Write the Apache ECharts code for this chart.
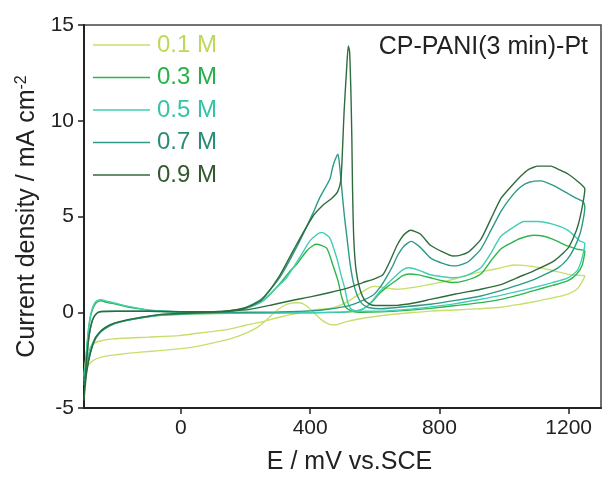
<!DOCTYPE html>
<html><head><meta charset="utf-8">
<script src="https://cdn.jsdelivr.net/npm/echarts@6/dist/echarts.min.js"></script>
<style>html,body{margin:0;padding:0;background:#fff;overflow:hidden}#c{width:603px;height:480px;display:block}</style>
</head><body><div id="c"></div>
<script>
const seriesNames = ['0.1 M', '0.3 M', '0.5 M', '0.7 M', '0.9 M'];
const lineColors = ['#c6df6c', '#2db64c', '#42ceb5', '#2c9a86', '#2f6c3d'];
const textColors = ['#bcd95a', '#27b04a', '#36c4a7', '#2a8c78', '#33592f'];
const xTicks = [0, 400, 800, 1200];

const cv01 = [[-300,-3.3],[-295,-3.0],[-289,-2.8],[-270,-2.5],[-240,-2.32],[-200,-2.22],[-150,-2.12],[-100,-2.05],[-50,-1.98],[0,-1.9],[50,-1.78],[100,-1.6],[150,-1.4],[200,-1.1],[235,-0.8],[265,-0.4],[290,0.0],[314,0.3],[340,0.48],[365,0.5],[385,0.38],[410,0.0],[435,-0.4],[460,-0.63],[480,-0.65],[510,-0.5],[550,-0.35],[600,-0.22],[650,-0.12],[700,-0.04],[772,0.06],[850,0.12],[920,0.18],[990,0.26],[1050,0.42],[1092,0.55],[1150,0.75],[1198,0.95],[1225,1.2],[1240,1.55],[1250,1.9],
[1230,1.93],[1198,1.98],[1150,2.18],[1114,2.32],[1060,2.45],[1030,2.47],[990,2.32],[940,2.15],[900,2.0],[850,1.75],[800,1.55],[772,1.46],[720,1.3],[669,1.2],[630,1.28],[600,1.35],[585,1.3],[560,1.05],[523,0.62],[490,0.35],[461,0.2],[408,0.12],[360,-0.05],[305,-0.26],[250,-0.5],[200,-0.68],[149,-0.88],[100,-1.0],[50,-1.1],[-6,-1.22],[-100,-1.3],[-209,-1.39],[-250,-1.5],[-271,-1.65],[-285,-1.95],[-295,-2.5],[-300,-3.3]];

const cv03 = [[-300,-3.4],[-295,-2.6],[-290,-1.6],[-285,-0.8],[-278,-0.1],[-268,0.35],[-258,0.55],[-247,0.6],[-230,0.52],[-200,0.42],[-170,0.3],[-130,0.18],[-100,0.1],[-50,0.04],[0,0.01],[50,0],[100,0],[150,0.05],[200,0.2],[250,0.55],[280,1.0],[314,1.65],[340,2.2],[358,2.5],[389,3.2],[410,3.5],[420,3.55],[451,3.35],[470,2.47],[486,1.65],[498,0.77],[510,0.26],[530,0.05],[560,0.0],[620,0.02],[700,0.1],[772,0.2],[850,0.35],[928,0.5],[990,0.67],[1040,0.88],[1092,1.13],[1150,1.4],[1198,1.65],[1225,2.0],[1242,2.47],[1250,3.2],
[1225,3.3],[1198,3.45],[1150,3.82],[1120,3.98],[1092,4.02],[1050,3.85],[1020,3.6],[990,3.3],[960,2.7],[928,2.0],[880,1.65],[840,1.55],[800,1.68],[772,1.8],[735,1.95],[705,2.0],[685,1.9],[669,1.7],[640,1.35],[616,1.0],[595,0.6],[575,0.3],[554,0.1],[520,0.02],[450,-0.02],[350,-0.03],[250,-0.04],[150,-0.05],[50,-0.08],[-50,-0.15],[-100,-0.24],[-146,-0.36],[-180,-0.48],[-209,-0.62],[-235,-0.85],[-255,-1.15],[-272,-1.6],[-285,-2.2],[-295,-3.0],[-300,-3.4]];

const cv05 = [[-300,-3.6],[-295,-2.7],[-290,-1.6],[-285,-0.7],[-278,0.0],[-268,0.45],[-258,0.62],[-247,0.66],[-230,0.58],[-200,0.46],[-170,0.33],[-130,0.2],[-100,0.12],[-50,0.05],[0,0.02],[50,0],[100,0],[150,0.05],[200,0.2],[250,0.55],[290,1.2],[327,1.8],[367,2.84],[398,3.7],[420,4.05],[436,4.17],[461,3.87],[482,2.84],[498,1.8],[507,1.25],[515,0.6],[525,0.2],[545,0.05],[600,0.05],[700,0.15],[772,0.28],[850,0.45],[928,0.68],[990,0.88],[1040,1.08],[1092,1.29],[1150,1.55],[1198,1.8],[1225,2.15],[1239,2.68],[1250,3.6],
[1235,3.72],[1198,4.28],[1150,4.6],[1105,4.74],[1061,4.74],[1030,4.45],[990,3.97],[960,3.1],[928,2.32],[880,1.9],[840,1.8],[800,1.88],[772,1.96],[735,2.2],[705,2.32],[685,2.2],[669,1.96],[640,1.5],[616,1.1],[595,0.65],[575,0.3],[554,0.12],[520,0.03],[450,0.0],[350,-0.02],[250,-0.03],[150,-0.04],[50,-0.06],[-50,-0.13],[-100,-0.22],[-146,-0.34],[-180,-0.46],[-209,-0.6],[-235,-0.82],[-255,-1.1],[-272,-1.55],[-285,-2.2],[-295,-3.1],[-300,-3.6]];

const cv07 = [[-300,-3.8],[-295,-3.0],[-290,-2.1],[-283,-1.1],[-272,-0.35],[-260,-0.05],[-245,0.04],[-200,0.05],[-100,0.05],[0,0.03],[100,0.03],[150,0.08],[200,0.25],[250,0.7],[305,1.8],[358,3.4],[408,5.15],[430,6.0],[461,6.96],[470,7.6],[478,8.0],[486,8.25],[492,7.5],[498,6.4],[506,5.0],[514,3.87],[523,2.6],[533,1.6],[545,0.9],[560,0.45],[580,0.25],[620,0.18],[700,0.3],[772,0.42],[850,0.62],[928,0.85],[990,1.13],[1040,1.4],[1092,1.7],[1130,2.0],[1167,2.32],[1195,2.75],[1217,3.35],[1235,4.1],[1245,4.85],[1250,5.5],
[1245,5.77],[1220,5.98],[1198,6.2],[1155,6.6],[1114,6.86],[1080,6.8],[1052,6.55],[1021,6.0],[990,5.26],[960,4.3],[928,3.3],[890,2.65],[860,2.45],[840,2.42],[810,2.55],[772,2.84],[740,3.4],[712,3.7],[690,3.45],[670,2.95],[657,2.47],[635,1.8],[616,1.3],[595,0.9],[563,0.62],[523,0.36],[461,0.17],[400,0.07],[300,0.02],[200,0.0],[100,-0.02],[0,-0.08],[-53,-0.12],[-100,-0.22],[-146,-0.36],[-180,-0.48],[-209,-0.62],[-235,-0.85],[-249,-1.03],[-265,-1.4],[-280,-2.1],[-292,-3.0],[-300,-3.8]];

const cv09 = [[-300,-4.6],[-296,-3.4],[-291,-2.3],[-284,-1.2],[-274,-0.4],[-262,-0.08],[-247,0.04],[-200,0.05],[-100,0.05],[0,0.03],[100,0.03],[150,0.08],[200,0.22],[250,0.65],[305,1.9],[350,3.3],[408,5.0],[440,5.6],[467,5.95],[485,6.3],[495,6.9],[500,8.5],[505,10.5],[512,12.5],[518,13.9],[522,13.6],[526,11.5],[529,9.0],[531,6.5],[535,3.8],[542,2.2],[554,1.2],[570,0.6],[590,0.38],[620,0.35],[669,0.36],[720,0.48],[772,0.67],[850,0.95],[928,1.2],[990,1.44],[1040,1.8],[1092,2.16],[1155,2.68],[1198,3.35],[1215,3.9],[1229,4.54],[1243,5.6],[1250,6.44],
[1230,6.8],[1198,7.22],[1170,7.45],[1145,7.63],[1105,7.63],[1075,7.45],[1052,7.11],[1021,6.55],[990,5.93],[960,4.9],[928,3.8],[890,3.15],[860,2.96],[840,2.94],[810,3.15],[772,3.5],[740,4.1],[710,4.28],[690,4.05],[669,3.5],[645,2.6],[625,1.96],[595,1.72],[563,1.55],[523,1.3],[461,1.03],[400,0.8],[350,0.64],[280,0.38],[212,0.15],[150,0.05],[100,0.0],[0,-0.06],[-53,-0.1],[-100,-0.2],[-146,-0.33],[-180,-0.45],[-209,-0.58],[-235,-0.8],[-249,-1.0],[-265,-1.35],[-280,-2.1],[-292,-3.2],[-300,-4.6]];

const curves = [cv01, cv03, cv05, cv07, cv09];

const FONT = 'Liberation Sans, Arial, Helvetica, sans-serif';
const chart = echarts.init(document.getElementById('c'), null, {renderer: 'canvas'});
chart.setOption({
  animation: false,
  backgroundColor: '#fff',
  textStyle: {fontFamily: FONT},
  title: {
    text: 'CP-PANI(3 min)-Pt', right: 10, top: 30,
    textStyle: {fontFamily: FONT, fontSize: 25, fontWeight: 'normal', color: '#222'}
  },
  legend: {
    orient: 'vertical', left: 93, top: 33, padding: 0,
    icon: 'rect', itemWidth: 57, itemHeight: 1.5, itemGap: 8.5,
    textStyle: {fontFamily: FONT, fontSize: 24, padding: [0, 0, 0, 2]},
    data: seriesNames.map((n, i) => ({name: n, textStyle: {color: textColors[i]}}))
  },
  grid: {left: 84, right: 2, top: 25, bottom: 66, show: true, borderColor: '#444', borderWidth: 1.5},
  xAxis: {
    type: 'value', min: -300, max: 1300,
    name: 'E / mV vs.SCE', nameLocation: 'middle', nameGap: 42,
    nameTextStyle: {fontFamily: FONT, fontSize: 25, color: '#222', padding: [0, 0, 0, 14]},
    axisLine: {show: true, onZero: false, lineStyle: {color: '#222', width: 2}},
    axisTick: {show: true, length: 6, customValues: xTicks, lineStyle: {color: '#222', width: 1.5}},
    axisLabel: {customValues: xTicks, fontSize: 21, color: '#222', margin: 10, fontFamily: FONT,
      formatter: v => String(v)},
    splitLine: {show: false}
  },
  yAxis: {
    type: 'value', min: -5, max: 15, interval: 5,
    name: '{a|Current density / mA cm}{s|-2}', nameLocation: 'middle', nameGap: 27, nameRotate: 90,
    nameTextStyle: {
      color: '#222',
      rich: {
        a: {fontFamily: FONT, fontSize: 25, color: '#222', lineHeight: 28},
        s: {fontFamily: FONT, fontSize: 16, color: '#222', verticalAlign: 'top', lineHeight: 28}
      }
    },
    axisLine: {show: true, onZero: false, lineStyle: {color: '#222', width: 2}},
    axisTick: {show: true, length: 6, lineStyle: {color: '#222', width: 1.5}},
    axisLabel: {fontSize: 21, color: '#222', margin: 10, fontFamily: FONT},
    splitLine: {show: false}
  },
  series: curves.map((d, i) => ({
    name: seriesNames[i], type: 'line', data: d,
    showSymbol: false, symbol: 'none', smooth: 0.2,
    lineStyle: {color: lineColors[i], width: 1.4},
    itemStyle: {color: lineColors[i]}
  }))
});
</script></body></html>
